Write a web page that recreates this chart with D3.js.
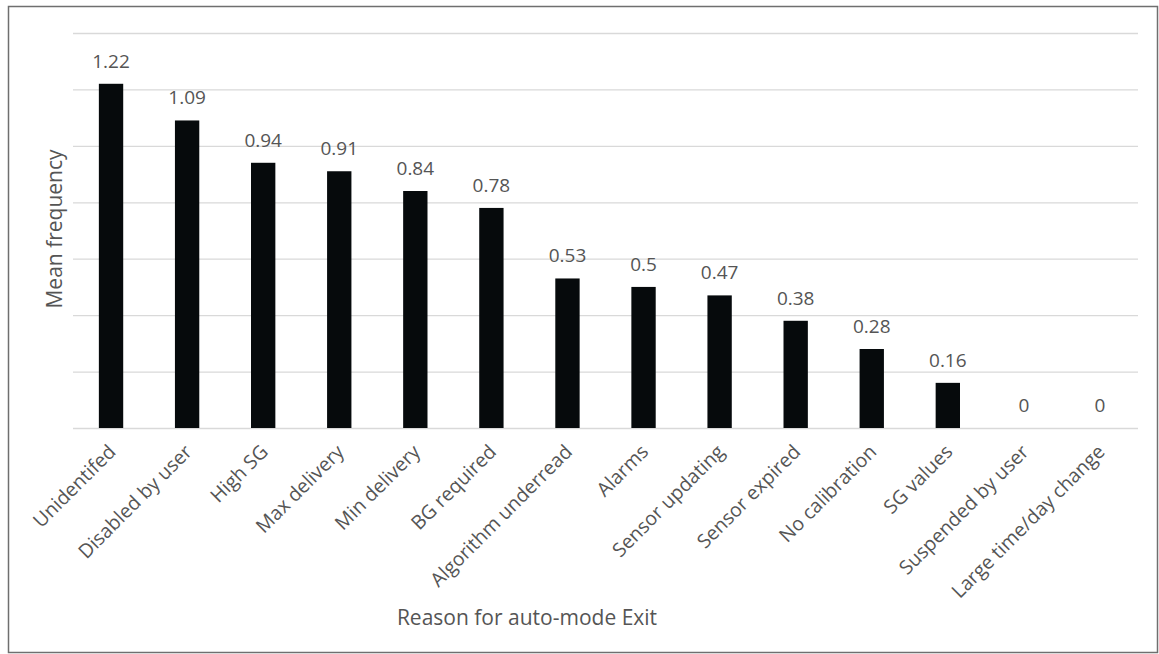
<!DOCTYPE html>
<html>
<head>
<meta charset="utf-8">
<script src="https://cdn.jsdelivr.net/npm/d3@7"></script>
<style>
  html, body { margin: 0; padding: 0; background: #fff; }
  svg { display: block; }
  text { font-family: "Open Sans", "Noto Sans", sans-serif; fill: #555555; }
</style>
</head>
<body>
<script>
const categories = ["Unidentifed", "Disabled by user", "High SG", "Max delivery", "Min delivery",
  "BG required", "Algorithm underread", "Alarms", "Sensor updating", "Sensor expired",
  "No calibration", "SG values", "Suspended by user", "Large time/day change"];
const values = [1.22, 1.09, 0.94, 0.91, 0.84, 0.78, 0.53, 0.5, 0.47, 0.38, 0.28, 0.16, 0, 0];
const yTicks = [0, 0.2, 0.4, 0.6, 0.8, 1.0, 1.2, 1.4];
const xTitle = "Reason for auto-mode Exit";
const yTitle = "Mean frequency";

const W = 1159, H = 654;
const svg = d3.select("body").append("svg").attr("width", W).attr("height", H);

// chart border
svg.append("rect").attr("x", 8.5).attr("y", 6.5).attr("width", 1149).attr("height", 646)
  .attr("fill", "#fff").attr("stroke", "#6f6f6f").attr("stroke-width", 1.5);

const x = d3.scaleBand().domain(categories).range([73, 1138]).paddingInner(0.68).paddingOuter(0.34);
const y = d3.scaleLinear().domain([0, 1.4]).range([428, 33]);

// gridlines
const grid = d3.axisLeft(y).tickValues(yTicks).tickSize(-(1138 - 73)).tickFormat("");
const g = svg.append("g").attr("transform", "translate(73,0)").call(grid);
g.select(".domain").remove();
g.selectAll(".tick line").attr("stroke", "#d9d9d9").attr("stroke-width", 1.3);

// bars
svg.append("g").selectAll("rect").data(categories).join("rect")
  .attr("x", d => x(d))
  .attr("width", x.bandwidth())
  .attr("y", (d, i) => y(values[i]))
  .attr("height", (d, i) => y(0) - y(values[i]))
  .attr("fill", "#060a0c");

// value labels
svg.append("g").selectAll("text").data(categories).join("text")
  .attr("x", d => x(d) + x.bandwidth() / 2)
  .attr("y", (d, i) => y(values[i]) - 16)
  .attr("text-anchor", "middle")
  .style("font-size", "19px")
  .text((d, i) => String(values[i]));

// x axis labels
const xa = svg.append("g").attr("transform", "translate(0,428)")
  .call(d3.axisBottom(x).tickSize(0).tickPadding(0));
xa.select(".domain").remove();
xa.selectAll(".tick text")
  .attr("text-anchor", "end")
  .attr("x", 0).attr("y", 0).attr("dy", 0)
  .attr("transform", "translate(6,25) rotate(-45)")
  .style("font-size", "19.5px")
  .style("fill", "#555555");

// axis titles
svg.append("text").attr("x", 527).attr("y", 625).attr("text-anchor", "middle")
  .style("font-size", "21px").text(xTitle);
svg.append("text").attr("transform", "translate(62,229) rotate(-90)").attr("text-anchor", "middle")
  .style("font-size", "21px").text(yTitle);
</script>
</body>
</html>
